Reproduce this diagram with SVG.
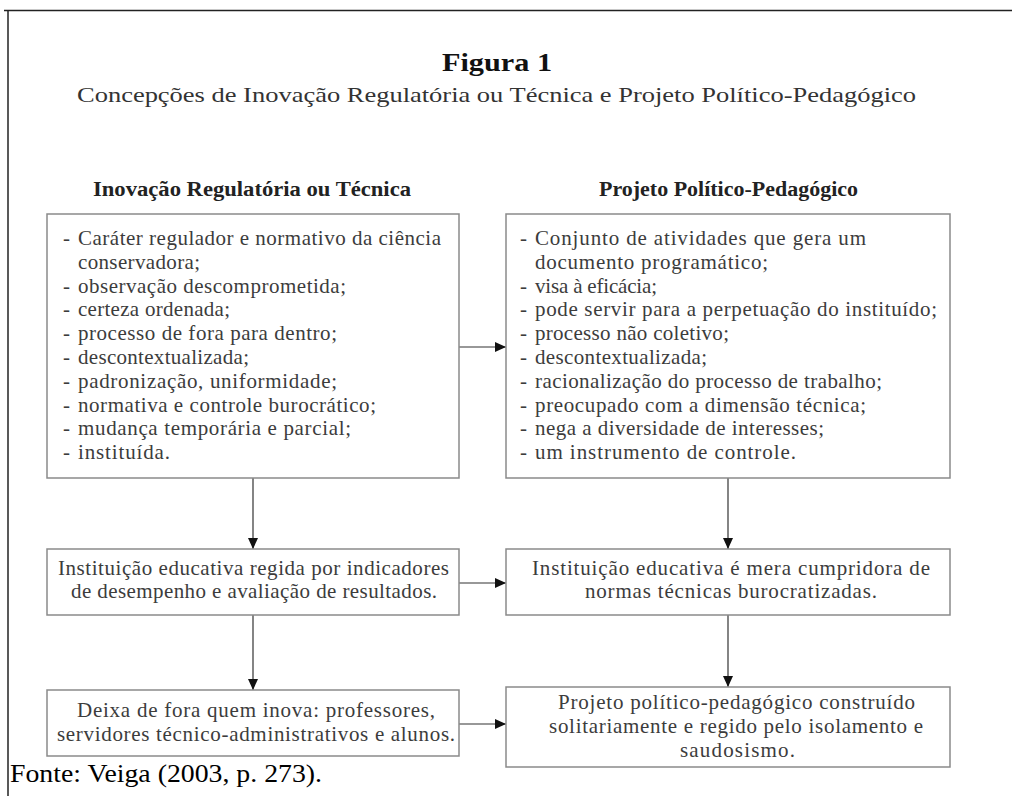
<svg xmlns="http://www.w3.org/2000/svg" width="1012" height="796" viewBox="0 0 1012 796">
<style>
text{font-family:"Liberation Serif","Times New Roman",serif;}
.t{fill:#3c3c3c;font-size:21px;}
.h{fill:#222;font-size:20px;font-weight:bold;}
.box{fill:#fff;stroke:#8a8a8a;stroke-width:1.5;}
.c{stroke:#333;stroke-width:1.2;fill:none;marker-end:url(#ah);}
</style>
<defs>
<marker id="ah" markerUnits="userSpaceOnUse" markerWidth="12" markerHeight="11" refX="11" refY="5" orient="auto">
<path d="M0,0 L11,5 L0,10 z" fill="#111"/>
</marker>
</defs>
<rect x="0" y="0" width="1012" height="796" fill="#fff"/>
<g id="frame" stroke="#222" stroke-width="1.5">
<line x1="4" y1="10.5" x2="1012" y2="10.5"/>
<line x1="8" y1="10" x2="8" y2="796"/>
</g>
<g id="title">
<text x="442" y="71" font-size="26" font-weight="bold" fill="#111" textLength="110" lengthAdjust="spacingAndGlyphs">Figura 1</text>
<text x="77" y="101.5" font-size="21" fill="#333" textLength="839" lengthAdjust="spacingAndGlyphs">Concepções de Inovação Regulatória ou Técnica e Projeto Político-Pedagógico</text>
</g>
<g id="headers">
<text class="h" x="93" y="196" textLength="318" lengthAdjust="spacingAndGlyphs">Inovação Regulatória ou Técnica</text>
<text class="h" x="599" y="196" textLength="259" lengthAdjust="spacingAndGlyphs">Projeto Político-Pedagógico</text>
</g>
<g id="connectors">
<line class="c" x1="459" y1="347" x2="506" y2="347"/>
<line class="c" x1="459" y1="583" x2="506" y2="583"/>
<line class="c" x1="459" y1="724" x2="506" y2="724"/>
<line class="c" x1="253" y1="478" x2="253" y2="549"/>
<line class="c" x1="253" y1="615" x2="253" y2="690"/>
<line class="c" x1="728" y1="478" x2="728" y2="549"/>
<line class="c" x1="728" y1="615" x2="728" y2="687"/>
</g>
<g id="node-left-list">
<rect class="box" x="47" y="214" width="412" height="264"/>
<g class="t">
<text x="63" y="245">-</text><text x="78" y="245" textLength="363" lengthAdjust="spacing">Caráter regulador e normativo da ciência</text>
<text x="78" y="268.8" textLength="122" lengthAdjust="spacing">conservadora;</text>
<text x="63" y="292.6">-</text><text x="78" y="292.6" textLength="268" lengthAdjust="spacing">observação descomprometida;</text>
<text x="63" y="316.4">-</text><text x="78" y="316.4" textLength="152" lengthAdjust="spacing">certeza ordenada;</text>
<text x="63" y="340.2">-</text><text x="78" y="340.2" textLength="259" lengthAdjust="spacing">processo de fora para dentro;</text>
<text x="63" y="364">-</text><text x="78" y="364" textLength="171" lengthAdjust="spacing">descontextualizada;</text>
<text x="63" y="387.8">-</text><text x="78" y="387.8" textLength="259" lengthAdjust="spacing">padronização, uniformidade;</text>
<text x="63" y="411.6">-</text><text x="78" y="411.6" textLength="298" lengthAdjust="spacing">normativa e controle burocrático;</text>
<text x="63" y="435.4">-</text><text x="78" y="435.4" textLength="273" lengthAdjust="spacing">mudança temporária e parcial;</text>
<text x="63" y="459">-</text><text x="78" y="459" textLength="92" lengthAdjust="spacing">instituída.</text>
</g>
</g>
<g id="node-right-list">
<rect class="box" x="506" y="214" width="444" height="264"/>
<g class="t">
<text x="520" y="245">-</text><text x="535" y="245" textLength="331" lengthAdjust="spacing">Conjunto de atividades que gera um</text>
<text x="535" y="268.8" textLength="233" lengthAdjust="spacing">documento programático;</text>
<text x="520" y="292.6">-</text><text x="535" y="292.6" textLength="122" lengthAdjust="spacing">visa à eficácia;</text>
<text x="520" y="316.4">-</text><text x="535" y="316.4" textLength="402" lengthAdjust="spacing">pode servir para a perpetuação do instituído;</text>
<text x="520" y="340.2">-</text><text x="535" y="340.2" textLength="194" lengthAdjust="spacing">processo não coletivo;</text>
<text x="520" y="364">-</text><text x="535" y="364" textLength="172" lengthAdjust="spacing">descontextualizada;</text>
<text x="520" y="387.8">-</text><text x="535" y="387.8" textLength="347" lengthAdjust="spacing">racionalização do processo de trabalho;</text>
<text x="520" y="411.6">-</text><text x="535" y="411.6" textLength="331" lengthAdjust="spacing">preocupado com a dimensão técnica;</text>
<text x="520" y="435.4">-</text><text x="535" y="435.4" textLength="289" lengthAdjust="spacing">nega a diversidade de interesses;</text>
<text x="520" y="459">-</text><text x="535" y="459" textLength="261" lengthAdjust="spacing">um instrumento de controle.</text>
</g>
</g>
<g id="node-left-mid">
<rect class="box" x="47" y="549" width="412" height="66"/>
<g class="t">
<text x="58" y="575" textLength="391" lengthAdjust="spacing">Instituição educativa regida por indicadores</text>
<text x="71" y="598" textLength="366" lengthAdjust="spacing">de desempenho e avaliação de resultados.</text>
</g>
</g>
<g id="node-right-mid">
<rect class="box" x="506" y="549" width="444" height="66"/>
<g class="t">
<text x="532" y="575" textLength="398" lengthAdjust="spacing">Instituição educativa é mera cumpridora de</text>
<text x="585" y="598" textLength="292" lengthAdjust="spacing">normas técnicas burocratizadas.</text>
</g>
</g>
<g id="node-left-bottom">
<rect class="box" x="47" y="690" width="412" height="66"/>
<g class="t">
<text x="77" y="717" textLength="358" lengthAdjust="spacing">Deixa de fora quem inova: professores,</text>
<text x="57" y="741" textLength="398" lengthAdjust="spacing">servidores técnico-administrativos e alunos.</text>
</g>
</g>
<g id="node-right-bottom">
<rect class="box" x="506" y="687" width="444" height="80"/>
<g class="t">
<text x="558" y="709" textLength="357" lengthAdjust="spacing">Projeto político-pedagógico construído</text>
<text x="549" y="733" textLength="374" lengthAdjust="spacing">solitariamente e regido pelo isolamento e</text>
<text x="680" y="757" textLength="115" lengthAdjust="spacing">saudosismo.</text>
</g>
</g>
<g id="source">
<text x="10" y="782" font-size="25" fill="#000" textLength="312" lengthAdjust="spacingAndGlyphs">Fonte: Veiga (2003, p. 273).</text>
</g>
</svg>
